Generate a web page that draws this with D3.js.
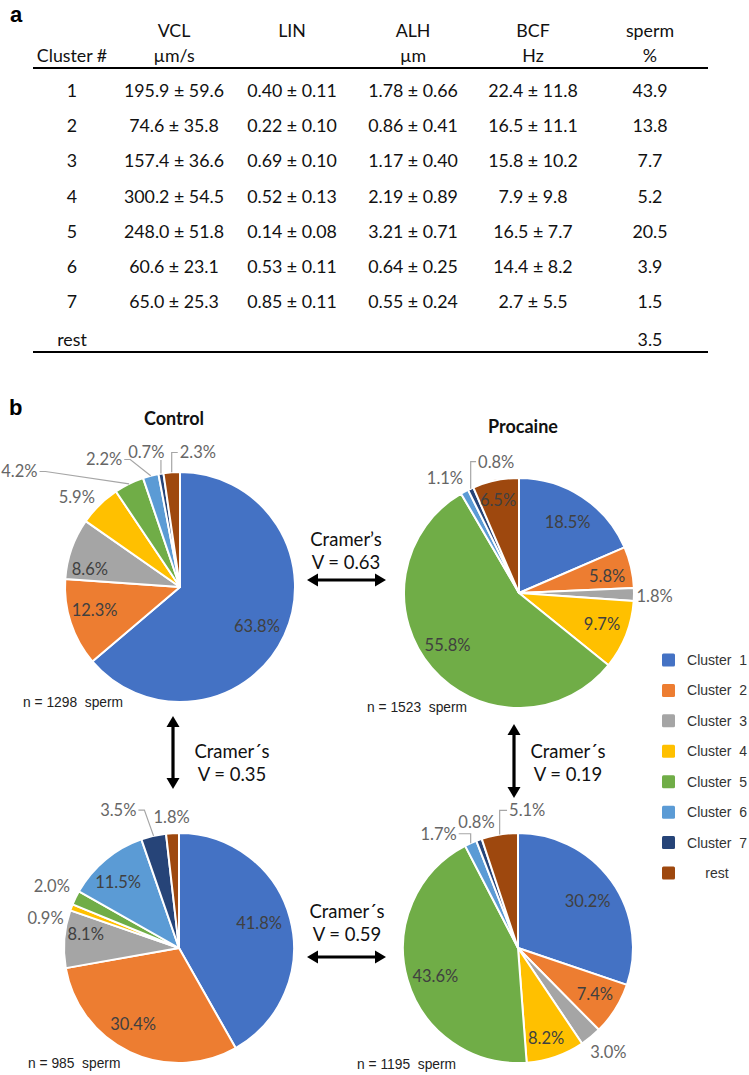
<!DOCTYPE html>
<html><head><meta charset="utf-8">
<script src="https://cdn.jsdelivr.net/npm/d3@7"></script>
<style>body{margin:0;background:#fff} svg{display:block}</style>
</head><body>
<svg id="chart" width="749" height="1075"></svg>
<script>
// ---------------- Panel a: table data ----------------
const tableClusters = ["1", "2", "3", "4", "5", "6", "7", "rest"];
const vclMean = [195.9, 74.6, 157.4, 300.2, 248.0, 60.6, 65.0, null];
const vclSd   = [59.6, 35.8, 36.6, 54.5, 51.8, 23.1, 25.3, null];
const linMean = [0.40, 0.22, 0.69, 0.52, 0.14, 0.53, 0.85, null];
const linSd   = [0.11, 0.10, 0.10, 0.13, 0.08, 0.11, 0.11, null];
const alhMean = [1.78, 0.86, 1.17, 2.19, 3.21, 0.64, 0.55, null];
const alhSd   = [0.66, 0.41, 0.40, 0.89, 0.71, 0.25, 0.24, null];
const bcfMean = [22.4, 16.5, 15.8, 7.9, 16.5, 14.4, 2.7, null];
const bcfSd   = [11.8, 11.1, 10.2, 9.8, 7.7, 8.2, 5.5, null];
const spermPct = [43.9, 13.8, 7.7, 5.2, 20.5, 3.9, 1.5, 3.5];
const headerTop = ["", "VCL", "LIN", "ALH", "BCF", "sperm"];
const headerBottom = ["Cluster #", "µm/s", "", "µm", "Hz", "%"];

// ---------------- Panel b: pie data ----------------
const clusters = ["Cluster 1", "Cluster 2", "Cluster 3", "Cluster 4", "Cluster 5", "Cluster 6", "Cluster 7", "rest"];
const controlPct   = [63.8, 12.3, 8.6, 5.9, 4.2, 2.2, 0.7, 2.3];
const procainePct  = [18.5, 5.8, 1.8, 9.7, 55.8, 1.1, 0.8, 6.5];
const control2Pct  = [41.8, 30.4, 8.1, 0.9, 2.0, 11.5, 3.5, 1.8];
const procaine2Pct = [30.2, 7.4, 3.0, 8.2, 43.6, 1.7, 0.8, 5.1];
const sampleSizes = [1298, 1523, 985, 1195];
const pieTitles = ["Control", "Procaine", "", ""];
const cramerLabels = ["Cramer’s", "Cramer´s", "Cramer´s", "Cramer´s"];
const cramerValues = ["0.63", "0.35", "0.19", "0.59"];

// ---------------- Styles / layout ----------------
const colors = ["#4472C4", "#ED7D31", "#A5A5A5", "#FFC000", "#70AD47", "#5B9BD5", "#264478", "#9E480E"];
const calibri = "Lato, 'Open Sans', sans-serif";
const arial = "'Liberation Sans', Arial, sans-serif";
const R = 115;
// per-slice label placement: [radius factor, angle shift (deg), leader line?]
const layouts = [
  [[.75,2,0],[.77,3,0],[.80,-8,0],[1.19,-4.5,0],[1.72,-28,1],[1.29,-16,1],[1.21,-4.5,1],[1.18,11.7,1]],
  [[.75,1,0],[.78,2,0],[1.18,0.5,0],[.77,-1,0],[.77,4.5,0],[1.19,-4.5,0],[1.16,15,1],[.83,-1,0]],
  [[.73,-2.6,0],[.77,6,0],[.82,4,0],[1.19,-8,0],[1.23,0,0],[.78,-3,0],[1.31,-11,1],[1.14,0,0]],
  [[.73,1.7,0],[.78,-1,0],[1.2,-1.7,0],[.82,1.7,0],[.76,-3,0],[1.21,-10.5,1],[1.15,1.5,0],[1.2,13,1]]
];
const pies = [
  {values: controlPct,   cx: 180, cy: 587, title: {x: 174, y: 425}, n: {x: 23, y: 707}},
  {values: procainePct,  cx: 519, cy: 593, title: {x: 523, y: 433}, n: {x: 367, y: 712}},
  {values: control2Pct,  cx: 179, cy: 948, title: null, n: {x: 28, y: 1068}},
  {values: procaine2Pct, cx: 518, cy: 948, title: null, n: {x: 357, y: 1069}}
];

const svg = d3.select("#chart");

// ---------------- Panel a ----------------
svg.append("text").attr("x", 10).attr("y", 22).attr("font-family", arial)
  .attr("font-weight", "bold").attr("font-size", 22).text("a");

const colX = [72, 174, 292, 413, 533, 650];
const rowY = d3.scalePoint().domain(tableClusters.slice(0, 7)).range([97, 308]);
const rowYof = (c, i) => i < 7 ? rowY(c) : 346;
const tbl = svg.append("g").attr("font-family", calibri).attr("font-size", 17.8)
  .attr("fill", "#111").attr("text-anchor", "middle");
headerTop.forEach((h, j) => tbl.append("text").attr("x", colX[j]).attr("y", 37).text(h));
headerBottom.forEach((h, j) => tbl.append("text").attr("x", colX[j]).attr("y", 62).text(h));
svg.append("line").attr("x1", 33).attr("x2", 708).attr("y1", 68).attr("y2", 68)
  .attr("stroke", "#000").attr("stroke-width", 2);
svg.append("line").attr("x1", 33).attr("x2", 708).attr("y1", 352).attr("y2", 352)
  .attr("stroke", "#000").attr("stroke-width", 2);
const f1 = d3.format(".1f"), f2 = d3.format(".2f");
const pm = (m, s, f) => m == null ? "" : `${f(m)} ± ${f(s)}`;
tableClusters.forEach((c, i) => {
  const y = rowYof(c, i);
  const cells = [c, pm(vclMean[i], vclSd[i], f1), pm(linMean[i], linSd[i], f2),
    pm(alhMean[i], alhSd[i], f2), pm(bcfMean[i], bcfSd[i], f1), f1(spermPct[i])];
  cells.forEach((t, j) => tbl.append("text").attr("x", colX[j]).attr("y", y).text(t));
});

// ---------------- Panel b ----------------
svg.append("text").attr("x", 9).attr("y", 415).attr("font-family", arial)
  .attr("font-weight", "bold").attr("font-size", 22).text("b");

const pieGen = d3.pie().sort(null).value(d => d);
const arcGen = d3.arc().innerRadius(0).outerRadius(R);
const pctFmt = v => d3.format(".1f")(v) + "%";

pies.forEach((p, pi) => {
  const g = svg.append("g").attr("transform", `translate(${p.cx},${p.cy})`);
  const arcs = pieGen(p.values);
  g.selectAll("path").data(arcs).join("path")
    .attr("d", arcGen).attr("fill", (d, i) => colors[i])
    .attr("stroke", "#fff").attr("stroke-width", 2).attr("stroke-linejoin", "round");
  const lay = layouts[pi];
  arcs.forEach((a, i) => {
    const [k, da, leader] = lay[i];
    const mid = (a.startAngle + a.endAngle) / 2;
    const ang = mid + da * Math.PI / 180;
    const lx = k * R * Math.sin(ang), ly = -k * R * Math.cos(ang);
    const t = g.append("text").attr("x", lx).attr("y", ly).attr("dy", "0.36em")
      .attr("text-anchor", "middle").attr("font-family", calibri).attr("font-size", 16.5)
      .attr("fill", k < 1 ? "#404040" : "#666").text(pctFmt(a.data));
    if (leader) {
      const bb = t.node().getBBox();
      const w = bb.width / 2, h = bb.height / 2;
      const ex = R * Math.sin(mid), ey = -R * Math.cos(mid);
      let pts;
      if (ex > lx + w) {
        const sx = lx + w + 2;
        pts = ex - sx > 12 ? [[sx, ly], [sx + 6, ly], [ex, ey]] : [[sx, ly], [ex, ly], [ex, ey]];
      } else if (ex < lx - w) {
        const sx = lx - w - 2;
        pts = sx - ex > 12 ? [[sx, ly], [sx - 6, ly], [ex, ey]] : [[sx, ly], [ex, ly], [ex, ey]];
      } else {
        pts = [[ex, ly + h - 2], [ex, ey]];
      }
      g.insert("path", "text").attr("d", d3.line()(pts)).attr("fill", "none")
        .attr("stroke", "#A6A6A6").attr("stroke-width", 1.2);
    }
  });
  if (p.title) {
    svg.append("text").attr("x", p.title.x).attr("y", p.title.y).attr("text-anchor", "middle")
      .attr("font-family", calibri).attr("font-weight", "bold").attr("font-size", 18)
      .attr("fill", "#111").text(pieTitles[pi]);
  }
  svg.append("text").attr("x", p.n.x).attr("y", p.n.y).attr("font-family", arial)
    .attr("font-size", 13.8).attr("fill", "#222").style("white-space", "pre")
    .text(`n = ${sampleSizes[pi]}  sperm`);
});

// Cramer's V annotations with double arrows
function doubleArrow(x1, y1, x2, y2) {
  const ang = Math.atan2(y2 - y1, x2 - x1);
  const L = 11, W = 6.5;
  const head = (x, y, a) => {
    const bx = x - L * Math.cos(a), by = y - L * Math.sin(a);
    return [[x, y], [bx + W * Math.sin(a), by - W * Math.cos(a)], [bx - W * Math.sin(a), by + W * Math.cos(a)]];
  };
  svg.append("line").attr("x1", x1 + 8 * Math.cos(ang)).attr("y1", y1 + 8 * Math.sin(ang))
    .attr("x2", x2 - 8 * Math.cos(ang)).attr("y2", y2 - 8 * Math.sin(ang))
    .attr("stroke", "#000").attr("stroke-width", 3.2);
  svg.append("path").attr("d", d3.line()(head(x2, y2, ang)) + "Z").attr("fill", "#000");
  svg.append("path").attr("d", d3.line()(head(x1, y1, ang + Math.PI)) + "Z").attr("fill", "#000");
}
const cramerLayout = [
  {tx: 346, ty: 546, arrow: [307, 580, 386, 580]},
  {tx: 232, ty: 758, arrow: [173, 716, 173, 789]},
  {tx: 568, ty: 758, arrow: [514, 724, 514, 798]},
  {tx: 347, ty: 918, arrow: [307, 957, 386, 957]}
];
cramerLayout.forEach((c, i) => {
  const t = svg.append("text").attr("text-anchor", "middle").attr("font-family", calibri)
    .attr("font-size", 18.5).attr("fill", "#111");
  t.append("tspan").attr("x", c.tx).attr("y", c.ty).text(cramerLabels[i]);
  t.append("tspan").attr("x", c.tx).attr("y", c.ty + 23).text(`V = ${cramerValues[i]}`);
  doubleArrow(...c.arrow);
});

// Legend
const legY = d3.scalePoint().domain(clusters).range([660, 873]);
const leg = svg.append("g");
clusters.forEach((c, i) => {
  leg.append("rect").attr("x", 662).attr("y", legY(c) - 6.5).attr("width", 13).attr("height", 13)
    .attr("rx", 1.5).attr("fill", colors[i]);
  leg.append("text").attr("x", 717).attr("y", legY(c) + 5).attr("text-anchor", "middle")
    .attr("font-family", arial).attr("font-size", 14).attr("fill", "#333")
    .style("white-space", "pre").text(c.replace(" ", "  "));
});
</script>
</body></html>
